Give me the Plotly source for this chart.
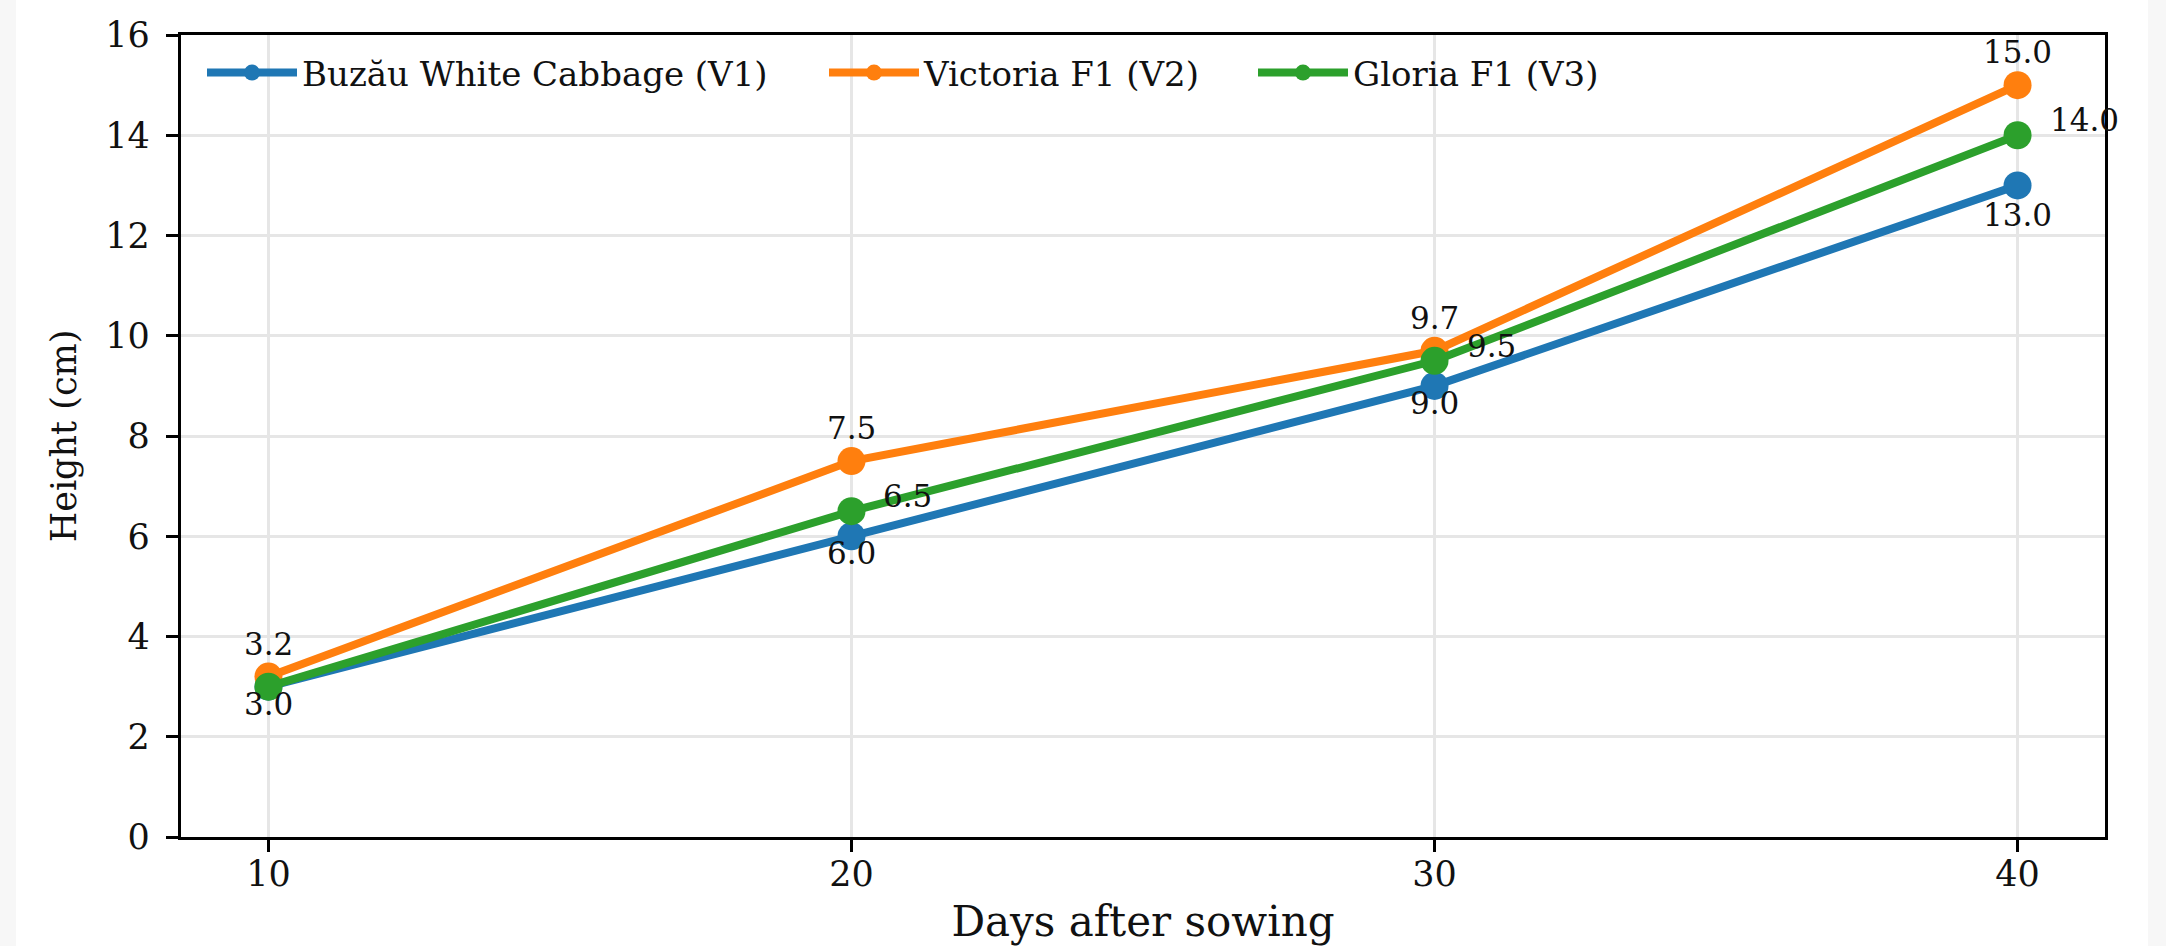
import plotly.graph_objects as go

days = [10, 20, 30, 40]
v1_name = "Buzău White Cabbage (V1)"
v2_name = "Victoria F1 (V2)"
v3_name = "Gloria F1 (V3)"
v1 = [3.0, 6.0, 9.0, 13.0]
v2 = [3.2, 7.5, 9.7, 15.0]
v3 = [3.0, 6.5, 9.5, 14.0]
y_ticks = [0, 2, 4, 6, 8, 10, 12, 14, 16]

colors = ["#1f77b4", "#ff7f0e", "#2ca02c"]
FONT = "DejaVu Serif"

W, H = 2166, 946
ML, MR, MT, MB = 181, 61, 35, 109
PW = W - ML - MR
PH = H - MT - MB


def px_to_paper_x(px):
    return (px - ML) / PW


def px_to_paper_y(py):
    return (H - MB - py) / PH


legend_names = ["legend", "legend2", "legend3"]
legend_left_px = [202, 824, 1253]

fig = go.Figure()
series = [(v1_name, v1, colors[0]), (v2_name, v2, colors[1]), (v3_name, v3, colors[2])]
for (name, vals, col), lg in zip(series, legend_names):
    fig.add_trace(go.Scatter(
        x=days, y=vals, name=name, mode="lines+markers",
        line=dict(color=col, width=8),
        marker=dict(color=col, size=28),
        cliponaxis=False,
        legend=lg,
    ))

annots = []
for i, (d, v) in enumerate(zip(days, v1)):
    annots.append(dict(x=d, y=v, text=f"{v:.1f}", showarrow=False,
                       xanchor="center", yanchor="middle",
                       yshift=-(30 if i == len(days) - 1 else 17)))
for d, v in zip(days, v2):
    annots.append(dict(x=d, y=v, text=f"{v:.1f}", showarrow=False,
                       xanchor="center", yanchor="middle", yshift=33))
for d, v in list(zip(days, v3))[1:]:
    annots.append(dict(x=d, y=v, text=f"{v:.1f}", showarrow=False,
                       xanchor="left", yanchor="middle", xshift=30, yshift=15))
for a in annots:
    a["font"] = dict(family=FONT, size=31, color="#111111")

# light grey page strips at the left and right edges
shapes = [
    dict(type="rect", xref="paper", yref="paper", layer="below",
         x0=px_to_paper_x(0), x1=px_to_paper_x(16), y0=px_to_paper_y(H), y1=px_to_paper_y(0),
         fillcolor="#f7f7f7", line=dict(width=0)),
    dict(type="rect", xref="paper", yref="paper", layer="below",
         x0=px_to_paper_x(2148), x1=px_to_paper_x(W), y0=px_to_paper_y(H), y1=px_to_paper_y(0),
         fillcolor="#f7f7f7", line=dict(width=0)),
]

axis_common = dict(
    showline=True, linecolor="black", linewidth=3.3, mirror=True,
    ticks="outside", ticklen=12, tickwidth=3, tickcolor="black",
    showgrid=True, gridcolor="#e6e6e6", gridwidth=2.5,
    zeroline=False, automargin=False,
    tickfont=dict(family=FONT, size=35, color="#111111"),
)

legend_common = dict(orientation="h", xanchor="left", yanchor="middle",
                     y=px_to_paper_y(73),
                     bgcolor="rgba(0,0,0,0)", borderwidth=0,
                     font=dict(family=FONT, size=34, color="#111111"),
                     itemwidth=90)

layout_legends = {}
for lg, lx in zip(legend_names, legend_left_px):
    layout_legends[lg] = dict(x=px_to_paper_x(lx), **legend_common)

fig.update_layout(
    width=W, height=H,
    margin=dict(l=ML, r=MR, t=MT, b=MB),
    paper_bgcolor="white", plot_bgcolor="white",
    font=dict(family=FONT, color="#111111"),
    xaxis=dict(range=[8.5, 41.5], tickmode="array", tickvals=days,
               ticktext=[str(d) for d in days],
               title=dict(text="Days after sowing", font=dict(family=FONT, size=42), standoff=23),
               ticklabelstandoff=-8,
               **axis_common),
    yaxis=dict(range=[0, 16], tickmode="array", tickvals=y_ticks,
               ticktext=[str(t) for t in y_ticks],
               title=dict(text="Height (cm)", font=dict(family=FONT, size=35), standoff=19),
               ticklabelstandoff=9,
               **axis_common),
    annotations=annots,
    shapes=shapes,
    showlegend=True,
    **layout_legends,
)

fig.write_html(
    "out.html",
    config={"displayModeBar": False},
    post_script="document.body.style.margin='0';document.body.style.padding='0';",
)
